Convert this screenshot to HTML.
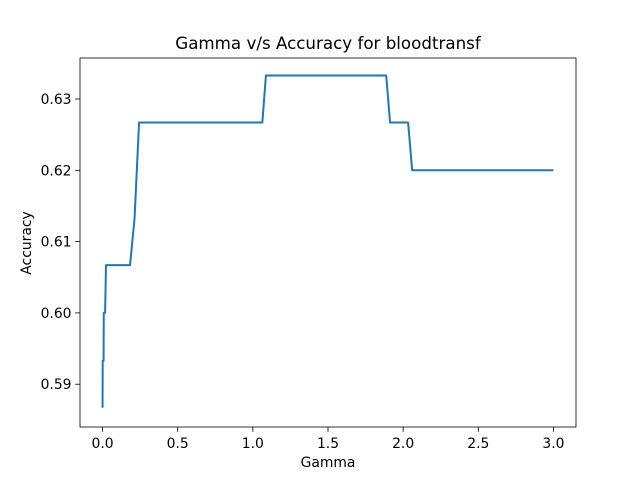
<!DOCTYPE html>
<html><head><meta charset="utf-8"><style>body{margin:0;background:#fff}svg{display:block;font-family:"DejaVu Sans","Liberation Sans",sans-serif}</style></head>
<body>
<svg id="chart" width="640" height="480"></svg>
<script>
const gammas=[0,0.001,0.007,0.008,0.017,0.023,0.183,0.213,0.243,1.063,1.087,1.887,1.913,2.033,2.06,3.0];
const accuracy=[0.5867,0.5933,0.5933,0.6,0.6,0.6067,0.6067,0.6133,0.6267,0.6267,0.6333,0.6333,0.6267,0.6267,0.62,0.62];
const xTicks=[0,0.5,1,1.5,2,2.5,3];
const xTickLabels=["0.0","0.5","1.0","1.5","2.0","2.5","3.0"];
const yTicks=[0.59,0.6,0.61,0.62,0.63];
const yTickLabels=["0.59","0.60","0.61","0.62","0.63"];
const L=80,R=576,T=58,B=427,xmin=-0.15,xmax=3.15,ymin=0.584,ymax=0.63575;
const sx=v=>L+(v-xmin)/(xmax-xmin)*(R-L);
const sy=v=>B-(v-ymin)/(ymax-ymin)*(B-T);
const svg=document.getElementById('chart');const NS='http://www.w3.org/2000/svg';
function mk(t,a,txt){const e=document.createElementNS(NS,t);for(const k in a)e.setAttribute(k,a[k]);if(txt!=null)e.textContent=txt;svg.appendChild(e);return e;}
let e;
e=mk('rect',{x:L,y:T,width:R-L,height:B-T,fill:'none',stroke:'#000','stroke-width':0.8});


xTicks.forEach((v,i)=>{const x=sx(v);
e=mk('line',{x1:x,x2:x,y1:B,y2:B+4.9,stroke:'#000','stroke-width':0.8});


e=mk('text',{x:x,y:B+21,'font-size':13.9,'text-anchor':'middle'},xTickLabels[i]);

});
yTicks.forEach((v,i)=>{const y=sy(v);
e=mk('line',{x1:L-4.9,x2:L,y1:y,y2:y,stroke:'#000','stroke-width':0.8});


e=mk('text',{x:L-8.5,y:y+5,'font-size':13.9,'text-anchor':'end'},yTickLabels[i]);

});
e=mk('polyline',{points:gammas.map((g,i)=>sx(g)+','+sy(accuracy[i])).join(' '),fill:'none',stroke:'#1f77b4','stroke-width':2,'stroke-linejoin':'round'});


e=mk('text',{x:328,y:49,'font-size':16.7,'text-anchor':'middle'},'Gamma v/s Accuracy for bloodtransf');


e=mk('text',{x:328,y:467,'font-size':13.9,'text-anchor':'middle'},'Gamma');


e=mk('text',{x:31,y:243,'font-size':13.9,'text-anchor':'middle',transform:'rotate(-90 31 243)'},'Accuracy');


</script>
</body></html>
